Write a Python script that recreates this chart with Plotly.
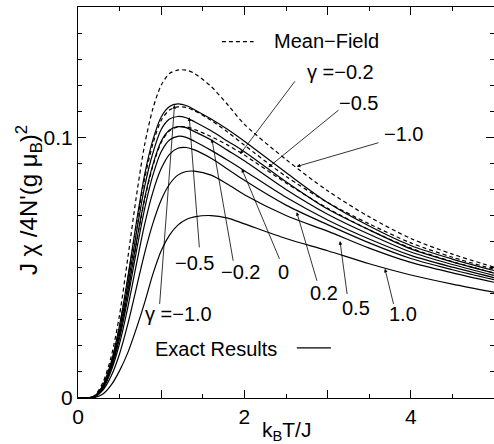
import plotly.graph_objects as go

# temperature grid k_B T / J
T = [0, 0.1, 0.2, 0.3, 0.4, 0.5, 0.6, 0.7, 0.8, 0.9, 1.0, 1.1, 1.2, 1.3, 1.4,
     1.6, 1.8, 2.0, 2.5, 3.0, 3.5, 4.0, 4.5, 5.0]

# exact results (solid)
exact_m10 = [0, 0, 0.0008, 0.005, 0.0140, 0.0280, 0.0465, 0.0670, 0.0855, 0.0990, 0.1078, 0.1118, 0.1128, 0.1122, 0.1106,
             0.1070, 0.1030, 0.0985, 0.0865, 0.0750, 0.0660, 0.0585, 0.0533, 0.0489]
exact_m05 = [0, 0, 0.0007, 0.0046, 0.0130, 0.0260, 0.0435, 0.0630, 0.0810, 0.0940, 0.1030, 0.1070, 0.1080, 0.1075, 0.1060,
             0.1025, 0.0985, 0.0945, 0.0830, 0.0725, 0.0645, 0.0572, 0.0522, 0.0479]
exact_m02 = [0, 0, 0.0007, 0.0043, 0.0122, 0.0245, 0.0410, 0.0595, 0.0765, 0.0895, 0.0985, 0.1028, 0.1041, 0.1037, 0.1022,
             0.0990, 0.0950, 0.0910, 0.0800, 0.0705, 0.0628, 0.0560, 0.0512, 0.0470]
exact_00 = [0, 0, 0.0006, 0.0040, 0.0115, 0.0230, 0.0385, 0.0560, 0.0725, 0.0855, 0.0945, 0.0990, 0.1004, 0.1000, 0.0985,
            0.0950, 0.0912, 0.0872, 0.0770, 0.0683, 0.0610, 0.0547, 0.0502, 0.0462]
exact_p02 = [0, 0, 0.0005, 0.0035, 0.0105, 0.0210, 0.0350, 0.0510, 0.0665, 0.0790, 0.0880, 0.0935, 0.0958, 0.0961, 0.0952,
             0.0920, 0.0878, 0.0835, 0.0740, 0.0665, 0.0595, 0.0535, 0.0492, 0.0454]
exact_p05 = [0, 0, 0.0004, 0.0030, 0.0085, 0.0170, 0.0285, 0.0420, 0.0555, 0.0670, 0.0760, 0.0820, 0.0855, 0.0869, 0.0870,
             0.0855, 0.0820, 0.0780, 0.0700, 0.0640, 0.0575, 0.0520, 0.0480, 0.0444]
exact_p10 = [0, 0, 0.0002, 0.0015, 0.0050, 0.0105, 0.0175, 0.0265, 0.0365, 0.0475, 0.0565, 0.0625, 0.0663, 0.0685, 0.0695,
             0.0700, 0.0690, 0.0668, 0.0612, 0.0565, 0.0515, 0.0472, 0.0437, 0.0406]

# mean-field results (dashed)
mf_m10 = [0, 0, 0.0010, 0.0060, 0.0160, 0.0320, 0.0540, 0.0770, 0.0970, 0.1110, 0.1200, 0.1245, 0.1258, 0.1258, 0.1245,
          0.1195, 0.1125, 0.1050, 0.0915, 0.0795, 0.0695, 0.0612, 0.0552, 0.0502]
mf_m05 = [0, 0, 0.0008, 0.0050, 0.0138, 0.0275, 0.0460, 0.0660, 0.0840, 0.0975, 0.1065, 0.1105, 0.1117, 0.1115, 0.1102,
          0.1065, 0.1020, 0.0970, 0.0850, 0.0750, 0.0668, 0.0595, 0.0540, 0.0494]
mf_m02 = [0, 0, 0.0006, 0.0042, 0.0120, 0.0240, 0.0405, 0.0590, 0.0760, 0.0890, 0.0980, 0.1025, 0.1040, 0.1040, 0.1030,
          0.1003, 0.0970, 0.0932, 0.0825, 0.0728, 0.0645, 0.0575, 0.0523, 0.0480]

exact_series = [exact_m10, exact_m05, exact_m02, exact_00, exact_p02, exact_p05, exact_p10]
mf_series = [mf_m10, mf_m05, mf_m02]

FONT = "Liberation Sans, Arial, Helvetica, sans-serif"

fig = go.Figure()
for ys in mf_series:
    fig.add_trace(go.Scatter(x=T, y=ys, mode="lines",
                             line=dict(color="black", width=1.2, dash="4px,3px", shape="spline", smoothing=0.8),
                             showlegend=False, hoverinfo="skip"))
for ys in exact_series:
    fig.add_trace(go.Scatter(x=T, y=ys, mode="lines",
                             line=dict(color="black", width=1.2, shape="spline", smoothing=0.8),
                             showlegend=False, hoverinfo="skip"))

# text labels: (text, x, y, xanchor)
labels = [
    ("Mean\u2212Field", 2.33, 0.1368, "left"),
    ("\u03b3 =\u22120.2", 2.73, 0.1249, "left"),
    ("\u22120.5", 3.11, 0.1130, "left"),
    ("\u22121.0", 3.65, 0.1013, "left"),
    ("\u22120.5", 1.145, 0.0517, "left"),
    ("\u22120.2", 1.69, 0.0483, "left"),
    ("0", 2.465, 0.0483, "center"),
    ("0.2", 2.765, 0.0402, "left"),
    ("0.5", 3.15, 0.0346, "left"),
    ("1.0", 3.71, 0.0321, "left"),
    ("\u03b3 =\u22121.0", 0.785, 0.0321, "left"),
    ("Exact Results", 0.905, 0.0189, "left"),
]
annotations = []
for txt, x, y, xa in labels:
    annotations.append(dict(text=txt, x=x, y=y, xref="x", yref="y", xanchor=xa, yanchor="middle",
                            showarrow=False, font=dict(family=FONT, size=20, color="black")))

# arrows: (tip x, tip y, tail x, tail y)
arrows = [
    (1.16, 0.1124, 0.98, 0.0355),
    (1.337, 0.1077, 1.46, 0.0572),
    (1.609, 0.0994, 1.868, 0.0521),
    (1.969, 0.0879, 2.429, 0.0528),
    (2.629, 0.0713, 2.877, 0.0444),
    (3.149, 0.0602, 3.237, 0.0393),
    (3.689, 0.0496, 3.797, 0.0355),
    (1.949, 0.0936, 2.621, 0.1221),
    (2.288, 0.0885, 3.149, 0.1109),
    (2.629, 0.0888, 3.629, 0.0981),
]
for tx, ty, ax, ay in arrows:
    annotations.append(dict(text="", x=tx, y=ty, xref="x", yref="y", ax=ax, ay=ay, axref="x", ayref="y",
                            showarrow=True, arrowhead=2, arrowsize=0.9, arrowwidth=0.8, arrowcolor="black",
                            standoff=0, startstandoff=0))

# axis titles
annotations.append(dict(text="J \u03c7 /4N'(g \u03bc<sub>B</sub>)<sup>2</sup>", x=-0.118, y=0.506,
                        xref="paper", yref="paper", textangle=-90, showarrow=False,
                        xanchor="center", yanchor="middle",
                        font=dict(family=FONT, size=24, color="black")))
annotations.append(dict(text="k<sub>B</sub>T/J", x=0.5, y=-0.085, xref="paper", yref="paper",
                        showarrow=False, xanchor="center", yanchor="middle",
                        font=dict(family=FONT, size=21, color="black")))

shapes = [
    dict(type="line", x0=1.73, x1=2.11, y0=0.1367, y1=0.1367, xref="x", yref="y",
         line=dict(color="black", width=1.2, dash="4px,3px")),
    dict(type="line", x0=2.63, x1=3.04, y0=0.0192, y1=0.0192, xref="x", yref="y",
         line=dict(color="black", width=1.2)),
]

fig.update_layout(
    width=494, height=444,
    margin=dict(l=78, r=0, t=7, b=46),
    paper_bgcolor="white", plot_bgcolor="white",
    font=dict(family=FONT, size=21, color="black"),
    annotations=annotations, shapes=shapes,
    showlegend=False,
    xaxis=dict(range=[0, 5], tickvals=[0, 1, 2, 3, 4, 5], ticktext=["0", "", "2", "", "4", ""],
               ticks="inside", ticklen=8, tickwidth=1, tickcolor="black",
               showline=True, linecolor="black", linewidth=1, mirror="allticks",
               showgrid=False, zeroline=False, automargin=False,
               minor=dict(dtick=0.5, ticks="inside", ticklen=4, tickcolor="black", showgrid=False),
               tickfont=dict(family=FONT, size=21)),
    yaxis=dict(range=[0, 0.15], tickvals=[0, 0.1], ticktext=["0", "0.1"],
               ticks="inside", ticklen=8, tickwidth=1, tickcolor="black",
               showline=True, linecolor="black", linewidth=1, mirror="allticks",
               showgrid=False, zeroline=False, automargin=False,
               minor=dict(dtick=0.01, ticks="inside", ticklen=4, tickcolor="black", showgrid=False),
               tickfont=dict(family=FONT, size=21)),
)

fig.write_html("out.html", config={"displayModeBar": False},
               post_script="document.body.style.margin='0';document.body.style.padding='0';")
